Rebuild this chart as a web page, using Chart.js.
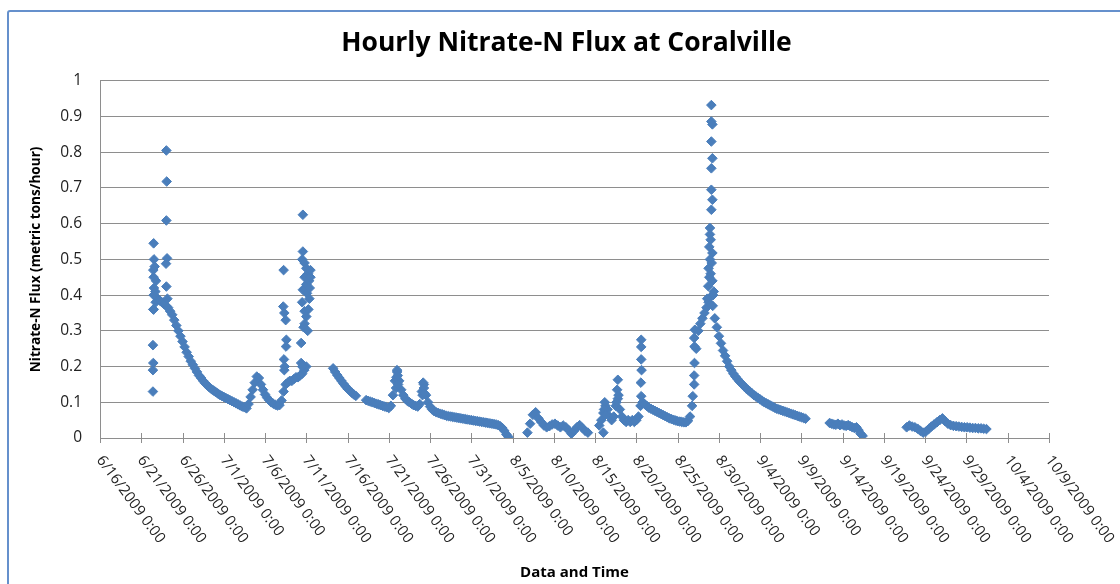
<!DOCTYPE html>
<html>
<head>
<meta charset="utf-8">
<title>Hourly Nitrate-N Flux at Coralville</title>
<script src="https://cdn.jsdelivr.net/npm/chart.js@4.4.1/dist/chart.umd.min.js"></script>
<style>
  html, body { margin: 0; padding: 0; background: #fff; overflow: hidden; }
  #frame { position: absolute; left: 7px; top: 10px; width: 1300px; height: 800px;
           border: 2px solid #6590cc; border-radius: 3px; }
  #wrap { position: absolute; left: 0; top: 0; width: 1120px; height: 584px; }
</style>
</head>
<body>
<div id="frame"></div>
<div id="wrap"><canvas id="fluxChart" width="1120" height="584"></canvas></div>
<script>
// pieces of the hourly record: start time, spacing in hours, flux (metric tons/hour)
const segStarts = ['6/22 12:00', '7/14 06:00', '7/18 06:00', '8/6 19:00', '8/15 12:00', '9/12 10:00', '9/21 18:00'];
const segSteps = [6, 6, 6, 8, 6, 6, 8];

const seg1 = [0.36, 0.38, 0.39, 0.385, 0.38, 0.375, 0.37, 0.365, 0.355, 0.345,
  0.33, 0.315, 0.3, 0.285, 0.27, 0.255, 0.24, 0.228, 0.215, 0.205,
  0.195, 0.185, 0.175, 0.168, 0.16, 0.153, 0.147, 0.142, 0.137, 0.133,
  0.129, 0.125, 0.121, 0.118, 0.115, 0.112, 0.109, 0.106, 0.103, 0.1,
  0.097, 0.094, 0.091, 0.088, 0.086, 0.083, 0.095, 0.115, 0.135, 0.155,
  0.172, 0.168, 0.15, 0.135, 0.122, 0.113, 0.106, 0.1, 0.096, 0.093,
  0.091, 0.092, 0.105, 0.13, 0.15, 0.155, 0.16, 0.16, 0.165, 0.17,
  0.17, 0.175, 0.18, 0.19, 0.2];
const seg2 = [0.195, 0.185, 0.176, 0.168, 0.16, 0.152, 0.145, 0.138, 0.132, 0.127, 0.122, 0.118];
const seg3 = [0.106, 0.104, 0.102, 0.1, 0.098, 0.096, 0.094, 0.092, 0.09, 0.088,
  0.086, 0.084, 0.09, 0.12, 0.16, 0.185, 0.16, 0.135, 0.12, 0.11,
  0.104, 0.1, 0.096, 0.092, 0.09, 0.088, 0.095, 0.13, 0.15, 0.12,
  0.1, 0.088, 0.08, 0.075, 0.072, 0.07, 0.068, 0.066, 0.064, 0.062,
  0.061, 0.06, 0.059, 0.058, 0.057, 0.056, 0.055, 0.054, 0.053, 0.052,
  0.051, 0.05, 0.049, 0.048, 0.047, 0.046, 0.045, 0.044, 0.043, 0.042,
  0.041, 0.04, 0.039, 0.038, 0.036, 0.033, 0.028, 0.02, 0.01, 0.003];
const seg4 = [0.015, 0.04, 0.065, 0.072, 0.055, 0.045, 0.035, 0.03, 0.033, 0.038,
  0.04, 0.035, 0.03, 0.035, 0.03, 0.022, 0.012, 0.02, 0.03, 0.036,
  0.028, 0.02, 0.015];
const seg5 = [0.035, 0.05, 0.07, 0.09, 0.08, 0.06, 0.05, 0.06, 0.09, 0.11,
  0.08, 0.06, 0.05, 0.045, 0.05, 0.045, 0.05, 0.045, 0.05, 0.06,
  0.09, 0.1, 0.095, 0.09, 0.085, 0.082, 0.079, 0.076, 0.073, 0.07,
  0.067, 0.064, 0.061, 0.058, 0.055, 0.053, 0.051, 0.049, 0.047, 0.046,
  0.045, 0.044, 0.044, 0.048, 0.06, 0.09, 0.15, 0.25, 0.3, 0.32,
  0.335, 0.35, 0.365, 0.38, 0.395, 0.37, 0.335, 0.31, 0.285, 0.265,
  0.245, 0.23, 0.215, 0.2, 0.19, 0.18, 0.172, 0.165, 0.158, 0.152,
  0.146, 0.14, 0.135, 0.13, 0.125, 0.12, 0.116, 0.112, 0.108, 0.104,
  0.1, 0.097, 0.094, 0.091, 0.088, 0.085, 0.082, 0.08, 0.078, 0.076,
  0.074, 0.072, 0.07, 0.068, 0.066, 0.064, 0.062, 0.06, 0.058, 0.056, 0.054];
const seg6 = [0.042, 0.04, 0.038, 0.037, 0.04, 0.036, 0.038, 0.035, 0.034, 0.036,
  0.033, 0.03, 0.028, 0.03, 0.022, 0.012, 0.006];
const seg7 = [0.03, 0.035, 0.032, 0.03, 0.026, 0.02, 0.015, 0.018, 0.025, 0.032,
  0.038, 0.044, 0.05, 0.055, 0.047, 0.04, 0.036, 0.034, 0.033, 0.032,
  0.031, 0.03, 0.03, 0.029, 0.028, 0.028, 0.027, 0.027, 0.026, 0.025];

// single hours that jump off the main trace during the storm peaks
const spikeTimes = [
  '6/22 10:00', '6/22 10:00', '6/22 11:00', '6/22 10:00', '6/22 11:00', '6/22 12:00', '6/22 13:00',
  '6/22 12:00', '6/22 11:00', '6/22 13:00', '6/22 12:00', '6/22 15:00', '6/22 17:00', '6/22 19:00',
  '6/24 01:00', '6/24 02:00', '6/24 01:00', '6/24 03:00', '6/24 00:00', '6/24 01:00', '6/24 04:00',
  '7/8 06:00', '7/8 05:00', '7/8 08:00', '7/8 12:00', '7/8 14:00', '7/8 13:00', '7/8 07:00', '7/8 09:00', '7/8 08:00',
  '7/10 14:00', '7/10 14:00', '7/10 12:00', '7/10 19:00', '7/11 00:00', '7/11 05:00', '7/10 19:00', '7/11 00:00',
  '7/10 14:00', '7/11 02:00', '7/11 08:00', '7/11 10:00', '7/10 12:00', '7/10 19:00', '7/11 00:00', '7/10 19:00',
  '7/10 16:00', '7/11 04:00', '7/11 06:00', '7/11 09:00', '7/11 12:00', '7/11 12:00', '7/10 09:00', '7/10 09:00', '7/10 12:00',
  '7/22 00:00', '7/21 22:00', '7/22 02:00', '7/21 21:00', '7/22 03:00',
  '7/25 04:00', '7/25 06:00', '7/25 02:00', '7/25 08:00',
  '8/16 04:00', '8/16 02:00', '8/16 06:00', '8/16 00:00', '8/17 18:00', '8/17 16:00', '8/17 20:00', '8/17 14:00',
  '8/20 14:00', '8/20 14:00', '8/20 14:00', '8/20 15:00', '8/20 13:00', '8/20 14:00',
  '8/29 02:00', '8/29 02:00', '8/29 05:00', '8/29 02:00', '8/29 05:00', '8/29 02:00', '8/29 02:00', '8/29 05:00',
  '8/29 02:00', '8/28 22:00', '8/28 22:00', '8/29 00:00', '8/28 20:00', '8/29 05:00', '8/28 22:00', '8/29 03:00',
  '8/28 18:00', '8/29 00:00', '8/28 20:00', '8/29 05:00', '8/28 17:00', '8/29 09:00', '8/29 07:00', '8/28 14:00',
  '8/26 20:00', '8/27 00:00', '8/27 01:00', '8/27 01:00', '8/27 00:00', '8/27 02:00'
];
const spikeFlux = [
  0.13, 0.19, 0.21, 0.26, 0.36, 0.40, 0.42,
  0.45, 0.47, 0.50, 0.545, 0.48, 0.41, 0.44,
  0.805, 0.718, 0.609, 0.503, 0.488, 0.424, 0.39,
  0.47, 0.368, 0.35, 0.33, 0.275, 0.256, 0.22, 0.2, 0.19,
  0.625, 0.522, 0.50, 0.49, 0.475, 0.46, 0.45, 0.43,
  0.415, 0.405, 0.44, 0.42, 0.38, 0.355, 0.34, 0.32,
  0.31, 0.3, 0.36, 0.39, 0.45, 0.47, 0.266, 0.21, 0.2,
  0.19, 0.17, 0.175, 0.14, 0.15,
  0.155, 0.14, 0.12, 0.125,
  0.1, 0.08, 0.065, 0.015, 0.163, 0.135, 0.12, 0.1,
  0.275, 0.255, 0.22, 0.19, 0.155, 0.117,
  0.932, 0.886, 0.878, 0.83, 0.783, 0.755, 0.695, 0.667,
  0.639, 0.588, 0.57, 0.555, 0.535, 0.518, 0.5, 0.49,
  0.475, 0.46, 0.45, 0.44, 0.425, 0.41, 0.4, 0.39,
  0.117, 0.175, 0.21, 0.256, 0.28, 0.303
];

const tickLabels = ['6/16/2009 0:00', '6/21/2009 0:00', '6/26/2009 0:00', '7/1/2009 0:00', '7/6/2009 0:00',
  '7/11/2009 0:00', '7/16/2009 0:00', '7/21/2009 0:00', '7/26/2009 0:00', '7/31/2009 0:00', '8/5/2009 0:00',
  '8/10/2009 0:00', '8/15/2009 0:00', '8/20/2009 0:00', '8/25/2009 0:00', '8/30/2009 0:00', '9/4/2009 0:00',
  '9/9/2009 0:00', '9/14/2009 0:00', '9/19/2009 0:00', '9/24/2009 0:00', '9/29/2009 0:00', '10/4/2009 0:00',
  '10/9/2009 0:00'];

const HOUR = 3600000;
const DAY = 24 * HOUR;
const axisStart = Date.UTC(2009, 5, 16);
const axisEnd = Date.UTC(2009, 9, 9);

function toTime(s) {
  const [md, hm] = s.split(' ');
  const [m, d] = md.split('/').map(Number);
  const [h, mi] = hm.split(':').map(Number);
  return Date.UTC(2009, m - 1, d, h, mi);
}

const points = [];
[seg1, seg2, seg3, seg4, seg5, seg6, seg7].forEach((vals, k) => {
  const t0 = toTime(segStarts[k]);
  vals.forEach((v, i) => points.push({ x: t0 + i * segSteps[k] * HOUR, y: v }));
});
spikeTimes.forEach((t, i) => points.push({ x: toTime(t), y: spikeFlux[i] }));

// Excel style: labels turned clockwise hanging from the tick, tick marks crossing the axis
const rotatedTicks = {
  id: 'rotatedTicks',
  beforeDatasetsDraw(chart) {
    const ctx = chart.ctx;
    const xs = chart.scales.x;
    const y0 = xs.top;
    ctx.save();
    ctx.strokeStyle = '#8e8e8e';
    ctx.lineWidth = 1;
    ctx.font = '15px "Open Sans"';
    ctx.fillStyle = '#222';
    ctx.textAlign = 'left';
    ctx.textBaseline = 'top';
    xs.ticks.forEach((t, i) => {
      const px = Math.round(xs.getPixelForValue(t.value)) + 0.5;
      ctx.beginPath();
      ctx.moveTo(px, y0 - 5);
      ctx.lineTo(px, y0 + 5);
      ctx.stroke();
      ctx.save();
      ctx.translate(px + 5, y0 + 15);
      ctx.rotate(53.5 * Math.PI / 180);
      ctx.fillText(tickLabels[i] || '', 0, 0);
      ctx.restore();
    });
    ctx.restore();
  }
};

new Chart(document.getElementById('fluxChart'), {
  type: 'scatter',
  data: {
    datasets: [{
      label: 'Nitrate-N Flux',
      data: points,
      pointStyle: 'rectRot',
      pointRadius: 4.8,
      pointBorderWidth: 1,
      backgroundColor: '#4a7ebb',
      borderColor: '#4a7ebb'
    }]
  },
  options: {
    responsive: false,
    animation: false,
    layout: { padding: { left: 13, right: 0, top: 0, bottom: 0 } },
    plugins: {
      legend: { display: false },
      tooltip: { enabled: false },
      title: {
        display: true,
        text: 'Hourly Nitrate-N Flux at Coralville',
        color: '#000',
        font: { family: 'Open Sans', size: 26.5, weight: 'bold' },
        padding: { top: 28, bottom: 21 }
      }
    },
    scales: {
      x: {
        type: 'linear',
        min: axisStart,
        max: axisEnd,
        ticks: { display: false, stepSize: 5 * DAY },
        grid: { display: false },
        border: { display: true, color: '#8e8e8e' },
        title: {
          display: true,
          text: 'Data and Time',
          color: '#000',
          font: { family: 'Open Sans', size: 15, weight: 'bold' },
          padding: { top: 0, bottom: 2 }
        },
        afterFit(scale) { scale.height = 146; }
      },
      y: {
        min: 0,
        max: 1,
        ticks: {
          stepSize: 0.1,
          padding: 18,
          color: '#222',
          font: { family: 'Open Sans', size: 15.5 },
          callback: v => String(Number(v.toFixed(1)))
        },
        grid: { color: '#8e8e8e', drawTicks: false },
        border: { display: true, color: '#8e8e8e' },
        title: {
          display: true,
          text: 'Nitrate-N Flux (metric tons/hour)',
          color: '#000',
          font: { family: 'Open Sans', size: 13.6, weight: 'bold' },
          padding: { top: 15, bottom: 0 }
        },
        afterFit(scale) { scale.width = 87; }
      },
      // empty right-hand box so the plot stops where the reference does
      yRight: {
        position: 'right',
        display: true,
        ticks: { display: false },
        grid: { display: false },
        border: { display: false },
        afterFit(scale) { scale.width = 71; }
      }
    }
  },
  plugins: [rotatedTicks]
});
</script>
</body>
</html>
